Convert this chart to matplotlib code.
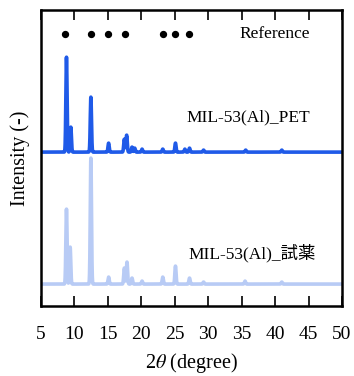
import numpy as np
import matplotlib
matplotlib.use("Agg")
import matplotlib.pyplot as plt

plt.rcParams['font.family'] = ['Liberation Serif', 'Noto Sans CJK JP']
plt.rcParams['mathtext.fontset'] = 'stix'

# peak lists (2theta, intensity a.u.)
petPeaks = [8.8, 9.45, 12.45, 15.1, 17.45, 17.8, 18.6, 19.0, 20.1, 23.2, 25.1, 26.5, 27.2, 29.3, 35.6, 41.0]
petHeights = [95, 25, 55, 9, 13, 17, 5, 4, 3, 3, 9, 3, 4, 2, 2, 2]

reagentPeaks = [8.8, 9.35, 12.45, 15.1, 17.45, 17.85, 18.6, 20.1, 23.2, 25.1, 27.2, 29.3, 35.5, 41.0]
reagentHeights = [75, 37, 126, 7, 16, 22, 6, 3, 7, 18, 6, 2, 3, 2]

refPeaks = [8.6, 12.5, 15.0, 17.6, 23.2, 25.0, 27.1]

petOffset = 132
reagentOffset = 0
dotLevel = 250

xTicks = [5, 10, 15, 20, 25, 30, 35, 40, 45, 50]


def pattern(x, centers, heights, width=0.09):
    y = np.zeros_like(x)
    for c, h in zip(centers, heights):
        y += h * np.exp(-0.5 * ((x - c) / width) ** 2)
    return y


x = np.linspace(5, 50, 4000)

fig = plt.figure(figsize=(3.54, 3.76), dpi=100)
ax = fig.add_axes([0.116, 0.186, 0.85, 0.787])

ax.plot(x, pattern(x, reagentPeaks, reagentHeights) + reagentOffset,
        color="#b8cbf5", lw=2.6, solid_joinstyle="round")
ax.plot(x, pattern(x, petPeaks, petHeights) + petOffset,
        color="#1f5ae8", lw=2.6, solid_joinstyle="round")
ax.scatter(refPeaks, [dotLevel] * len(refPeaks), s=18, color="black", zorder=3)

ax.text(45.2, dotLevel, "Reference", ha="right", va="center", fontsize=12.5)
ax.text(45.2, petOffset + 35, "MIL-53(Al)_PET", ha="right", va="center", fontsize=12.5)
ax.text(46.1, reagentOffset + 31, "MIL-53(Al)_試薬", ha="right", va="center", fontsize=12.5)

ax.set_xlim(5, 50)
ax.set_ylim(-22, 274)
ax.set_xticks(xTicks)
ax.set_yticks([])
ax.tick_params(axis="x", direction="in", top=True, length=7, width=1.2,
               labelsize=14, pad=14)
for s in ax.spines.values():
    s.set_linewidth(1.8)

ax.set_xlabel(r"2$\theta$ (degree)", fontsize=14.5, labelpad=6)
ax.set_ylabel("Intensity (-)", fontsize=14.5, labelpad=8)

fig.savefig("out.png", dpi=100)
